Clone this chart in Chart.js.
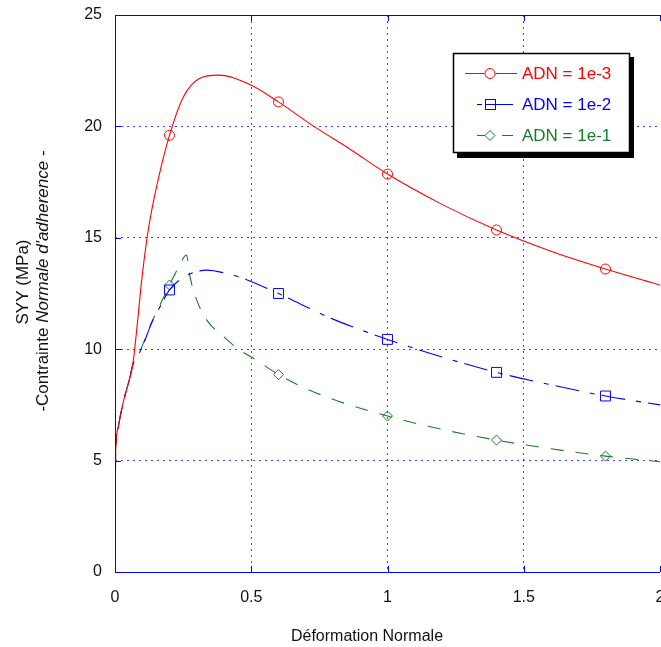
<!DOCTYPE html>
<html>
<head>
<meta charset="utf-8">
<script src="https://cdn.jsdelivr.net/npm/chart.js@4.4.0/dist/chart.umd.min.js"></script>
<style>
html, body { margin: 0; padding: 0; background: #fff; overflow: hidden; }
#wrap { width: 680px; height: 647px; }
</style>
</head>
<body>
<div id="wrap"><canvas id="myChart" width="680" height="647"></canvas></div>
<script>

// strain (x) and stress SYY in MPa (y) for each ADN value
var strainA = [0, 0.001, 0.002, 0.004, 0.012, 0.03, 0.055, 0.065, 0.08, 0.098, 0.122, 0.16, 0.2, 0.25, 0.31, 0.38, 0.5, 0.6, 0.73, 0.86, 1.0, 1.2, 1.4, 1.6, 1.8, 2.0];
var stressA = [0, 3, 5, 5.8, 6.5, 7.6, 8.75, 9.3, 10.9, 13.1, 15.35, 17.7, 19.6, 21.3, 22.15, 22.3, 21.85, 21.1, 20.0, 19.0, 17.86, 16.5, 15.35, 14.4, 13.6, 12.88];

var strainB = [0, 0.001, 0.002, 0.004, 0.012, 0.03, 0.055, 0.065, 0.08, 0.1, 0.134, 0.165, 0.2, 0.245, 0.29, 0.336, 0.41, 0.47, 0.6, 0.68, 0.8, 1.0, 1.2, 1.4, 1.6, 1.8, 2.0];
var stressB = [0, 3, 5, 5.8, 6.5, 7.6, 8.75, 9.3, 9.6, 10.1, 11.16, 11.9, 12.66, 13.18, 13.45, 13.55, 13.4, 13.18, 12.5, 12.03, 11.35, 10.44, 9.65, 8.96, 8.4, 7.9, 7.5];

var strainC = [0, 0.001, 0.002, 0.004, 0.012, 0.03, 0.055, 0.065, 0.08, 0.1, 0.134, 0.153, 0.2, 0.23, 0.263, 0.27, 0.28, 0.3, 0.32, 0.35, 0.4, 0.45, 0.5, 0.55, 0.6, 0.68, 0.8, 1.0, 1.2, 1.4, 1.6, 1.8, 2.0];
var stressC = [0, 3, 5, 5.8, 6.5, 7.6, 8.75, 9.3, 9.6, 10.15, 11.2, 11.68, 12.88, 13.6, 14.23, 13.6, 13.0, 12.2, 11.65, 11.1, 10.55, 10.02, 9.65, 9.25, 8.86, 8.35, 7.75, 7.0, 6.4, 5.92, 5.53, 5.2, 4.95];

// marker positions
var markStrain = [0.2, 0.6, 1.0, 1.4, 1.8];
var markA = [19.6, 21.1, 17.86, 15.35, 13.6];
var markB = [12.66, 12.5, 10.44, 8.96, 7.9];
var markC = [12.88, 8.86, 7.0, 5.92, 5.2];

var seriesNames = ["ADN = 1e-3", "ADN = 1e-2", "ADN = 1e-1"];
var xTicks = [0, 0.5, 1, 1.5, 2];
var yTicks = [0, 5, 10, 15, 20, 25];

var RED = '#ff0000', BLUE = '#0000ff', GREEN = '#1a7a2a';
var FONT = '"Liberation Sans", Arial, sans-serif';

function pts(xs, ys) {
    return xs.map(function(x, i) { return { x: x, y: ys[i] }; });
}

function lineSet(xs, ys, color, dash) {
    return {
        data: pts(xs, ys), showLine: true, borderColor: color, borderWidth: 1.1,
        borderDash: dash, pointRadius: 0, cubicInterpolationMode: 'monotone', fill: false
    };
}

function markSet(ys, color, style, r) {
    return {
        data: pts(markStrain, ys), showLine: false, borderColor: color, backgroundColor: 'rgba(0,0,0,0)',
        pointStyle: style, pointRadius: r, borderWidth: 1
    };
}

// frame, inner ticks, axis titles
var framePlugin = {
    id: 'frame',
    afterDraw: function(chart) {
        var c = chart.ctx, a = chart.chartArea;
        var xs = chart.scales.x, ys = chart.scales.y;
        c.save();
        c.strokeStyle = BLUE;
        c.lineWidth = 1;
        c.beginPath();
        c.moveTo(a.left + 0.5, a.top + 0.5);
        c.lineTo(a.right, a.top + 0.5);
        c.moveTo(a.left + 0.5, a.top);
        c.lineTo(a.left + 0.5, a.bottom + 0.5);
        c.lineTo(a.right, a.bottom + 0.5);
        xTicks.forEach(function(v) {
            var px = Math.round(xs.getPixelForValue(v)) + 0.5;
            c.moveTo(px, a.bottom); c.lineTo(px, a.bottom - 6);
            c.moveTo(px, a.top); c.lineTo(px, a.top + 6);
        });
        yTicks.forEach(function(v) {
            var py = Math.round(ys.getPixelForValue(v)) + 0.5;
            c.moveTo(a.left, py); c.lineTo(a.left + 6, py);
        });
        c.stroke();

        c.fillStyle = '#111';
        c.font = '16px ' + FONT;
        c.textAlign = 'center';
        c.textBaseline = 'middle';
        c.fillText('Déformation Normale', 367, 637);

        // y title, rotated
        c.save();
        c.translate(23, 282);
        c.rotate(-Math.PI / 2);
        c.font = '17px ' + FONT;
        c.fillText('SYY (MPa)', 0, 0);
        c.restore();

        var parts = [['-Contrainte ', ''], ["Normale d'adherence", 'italic '], [' -', '']];
        var total = 0;
        parts.forEach(function(p) { c.font = p[1] + '17px ' + FONT; p.w = c.measureText(p[0]).width; total += p.w; });
        c.save();
        c.translate(43, 281);
        c.rotate(-Math.PI / 2);
        c.textAlign = 'left';
        var cx = -total / 2;
        parts.forEach(function(p) { c.font = p[1] + '17px ' + FONT; c.fillText(p[0], cx, 0); cx += p.w; });
        c.restore();
        c.restore();
    }
};

// boxed legend with drop shadow
var legendPlugin = {
    id: 'boxLegend',
    afterDraw: function(chart) {
        var c = chart.ctx;
        c.save();
        c.fillStyle = '#000';
        c.fillRect(457, 57, 177, 101);
        c.fillStyle = '#fff';
        c.fillRect(453, 53, 177, 100);
        c.strokeStyle = '#000';
        c.lineWidth = 1.5;
        c.strokeRect(453.5, 53.5, 176, 99);

        var rows = [73, 104, 135];
        var colors = [RED, BLUE, GREEN];
        c.lineWidth = 1;
        // red: solid with circle
        c.strokeStyle = RED;
        c.beginPath(); c.moveTo(465, rows[0] + 0.5); c.lineTo(484.5, rows[0] + 0.5);
        c.moveTo(495.5, rows[0] + 0.5); c.lineTo(517, rows[0] + 0.5); c.stroke();
        c.beginPath(); c.arc(490, rows[0] + 0.5, 5, 0, Math.PI * 2); c.stroke();
        // blue: dash-dot with square
        c.strokeStyle = BLUE;
        c.beginPath(); c.moveTo(477, rows[1] + 0.5); c.lineTo(482, rows[1] + 0.5);
        c.moveTo(486, rows[1] + 0.5); c.lineTo(513, rows[1] + 0.5); c.stroke();
        c.strokeRect(485.5, rows[1] - 4.5, 10, 10);
        // green: dashed with diamond
        c.strokeStyle = GREEN;
        c.beginPath(); c.moveTo(477, rows[2] + 0.5); c.lineTo(485, rows[2] + 0.5);
        c.moveTo(502, rows[2] + 0.5); c.lineTo(513, rows[2] + 0.5); c.stroke();
        c.beginPath(); c.moveTo(485, rows[2] + 0.5); c.lineTo(490, rows[2] - 4.5);
        c.lineTo(495, rows[2] + 0.5); c.lineTo(490, rows[2] + 5.5); c.closePath(); c.stroke();

        c.font = '17px ' + FONT;
        c.textAlign = 'left';
        c.textBaseline = 'middle';
        seriesNames.forEach(function(n, i) {
            c.fillStyle = colors[i];
            c.fillText(n, 522, rows[i] + 1);
        });
        c.restore();
    }
};

function gridColor(ctx) {
    var v = ctx.tick ? ctx.tick.value : null;
    if (v === 0 || v === 2 || v === 25) return 'rgba(0,0,0,0)';
    return 'rgba(0,0,255,0.75)';
}

var ctx = document.getElementById('myChart').getContext('2d');
var myChart = new Chart(ctx, {
    type: 'scatter',
    data: {
        datasets: [
            lineSet(strainA, stressA, RED, []),
            lineSet(strainB, stressB, BLUE, [24, 11, 5, 7]),
            lineSet(strainC, stressC, GREEN, [13, 12]),
            markSet(markA, RED, 'circle', 5),
            markSet(markB, BLUE, 'rect', 7),
            markSet(markC, GREEN, 'rectRot', 5)
        ]
    },
    options: {
        responsive: false,
        animation: false,
        devicePixelRatio: 1,
        layout: { padding: { left: 0, right: 20, top: 15, bottom: 0 } },
        plugins: { legend: { display: false }, tooltip: { enabled: false } },
        scales: {
            x: {
                type: 'linear', min: 0, max: 2,
                afterFit: function(s) { s.height = 75; s.paddingLeft = 0; s.paddingRight = 0; },
                ticks: {
                    stepSize: 0.5, padding: 16, color: '#111', maxRotation: 0, font: { family: FONT, size: 16 },
                    callback: function(v) { return String(v); }
                },
                grid: { color: gridColor, drawTicks: false, lineWidth: 1 },
                border: { display: false, dash: [2, 4] }
            },
            y: {
                type: 'linear', min: 0, max: 25,
                afterFit: function(s) { s.width = 115; s.paddingTop = 0; s.paddingBottom = 0; },
                ticks: { stepSize: 5, padding: 13, color: '#111', font: { family: FONT, size: 16 } },
                grid: { color: gridColor, drawTicks: false, lineWidth: 1 },
                border: { display: false, dash: [2, 4] }
            }
        }
    },
    plugins: [framePlugin, legendPlugin]
});
</script>
</body>
</html>
